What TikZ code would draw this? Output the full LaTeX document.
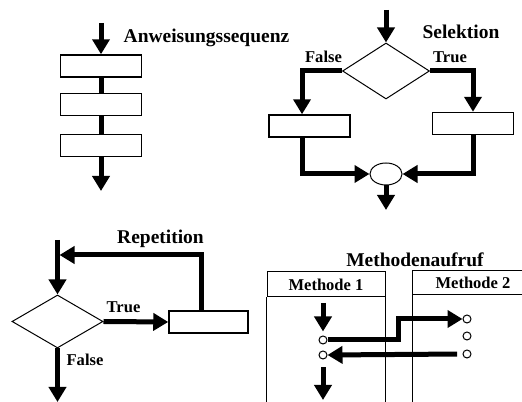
\documentclass[tikz,border=0pt]{standalone}
\usepackage{fontspec}
\setmainfont{Liberation Serif}
\usetikzlibrary{arrows.meta,shapes.geometric}
\tikzset{every picture/.style={line width=0.75pt},
  flow/.style={line width=3.75pt},
  flowarr/.style={flow,-{Triangle[width=12.75pt,length=11.25pt]}},
  box/.style={draw,line width=1.1pt,minimum width=60.75pt,minimum height=16.5pt,inner sep=0pt},
  dia/.style={draw,diamond,inner sep=0pt},
  knot/.style={draw,circle,minimum size=6pt,inner sep=0pt},
  lbig/.style={font=\fontsize{14.6}{17}\selectfont\bfseries,inner sep=0.75pt},
  lsmall/.style={font=\fontsize{12.4}{15}\selectfont\bfseries,inner sep=0.75pt}}
\begin{document}
\begin{tikzpicture}[x=0.75pt,y=0.75pt,yscale=-1,xscale=1]
\useasboundingbox (0,0) rectangle (522,402);

%Shape: Rectangle [sequence]
\node [box] (s1) at (101,66) {};
\node [box] (s2) at (101,104.5) {};
\node [box] (s3) at (101,145.5) {};
\coordinate (s0) at (101,23);
\coordinate (s4) at (101,191);
%Straight Lines
\draw [flowarr] (s0) -- (s1.north);
\draw [flow] (s1.south) -- (s2.north);
\draw [flow] (s2.south) -- (s3.north);
\draw [flowarr] (s3.south) -- (s4);

%Shape: Diamond [selection]
\node [dia,minimum width=65.25pt,minimum height=42pt] (d1) at (386,71) {};
\node [box] (b1) at (309.5,126) {};
\node [box] (b2) at (473,123.5) {};
%Shape: Ellipse
\node [draw,ellipse,minimum width=24pt,minimum height=16.5pt,inner sep=0pt] (m) at (386,174) {};
\coordinate (e0) at (386,10);
\coordinate (e1) at (386,210);
%Straight Lines
\draw [flowarr] (e0) -- (d1.north);
\draw [flowarr] (d1.west) -| ([xshift=-5.6pt]b1.north);
\draw [flowarr] (d1.east) -| (b2.north);
\draw [flowarr] ([xshift=-5.6pt]b1.south) |- (m.west);
\draw [flowarr] (b2.south) |- (m.east);
\draw [flowarr] (m.south) -- (e1);

%Shape: Diamond [repetition]
\node [dia,minimum width=68.25pt,minimum height=39.75pt] (d2) at (57.5,321.5) {};
\node [box,minimum width=59.25pt] (b3) at (208.5,322) {};
\coordinate (r0) at (57.5,240);
\coordinate (r1) at (59.5,255);
\coordinate (r2) at (57.5,402);
%Straight Lines
\draw [flowarr] (r0) -- (d2.north);
\draw [flowarr] (d2.east) -- (b3.west);
\draw [flowarr] ([xshift=-5.6pt]b3.north) |- (r1);
\draw [flowarr] (d2.south) -- (r2);

%Shape: Rectangle [method call]
\node [draw,minimum width=88.5pt,minimum height=18.75pt,inner sep=0pt] (h1) at (326,284.5) {};
\draw (h1.south west) -- ++(0,105);
\draw (h1.south east) -- ++(0,105);
\coordinate (h2) at (412,271);
\draw (412,402) -- (h2) -- (522,271);
\draw (412,295) -- (522,295);
%Shape: Circle
\node [knot] (c1) at (323,340) {};
\node [knot] (c2) at (323,355) {};
\node [knot] (c3) at (467,319) {};
\node [knot] (c4) at (467,336) {};
\node [knot] (c5) at (467,354) {};
\coordinate (k0) at (323,303);
\coordinate (k1) at (398,330);
\coordinate (k2) at (323,400);
%Straight Lines
\draw [flowarr,shorten >=3pt] (k0) -- (c1.north);
\draw [flowarr] (c1.east) -| (k1) |- (c3.west);
\draw [flowarr,shorten <=4pt] (c5.west) -- (c2.east);
\draw [flowarr,shorten <=6pt] (c2.south) -- (k2);

% Text Node
\node [lbig] (tseq) at (206.5,38) {Anweisungssequenz};
% Text Node
\node [lbig] (tsel) at (461,32) {Selektion};
% Text Node
\node [lsmall] (tf1) at (323.5,57) {False};
% Text Node
\node [lsmall] (tt1) at (450,57) {True};
% Text Node
\node [lbig] (trep) at (160.5,239) {Repetition};
% Text Node
\node [lsmall] (tt2) at (123.5,307) {True};
% Text Node
\node [lsmall] (tf2) at (85,360) {False};
% Text Node
\node [lbig] (tcall) at (415,260) {Methodenaufruf};
% Text Node
\node [lsmall] (tm1) at (h1) {Methode 1};
% Text Node
\node [lsmall] (tm2) at (473,283) {Methode 2};

\end{tikzpicture}
\end{document}
